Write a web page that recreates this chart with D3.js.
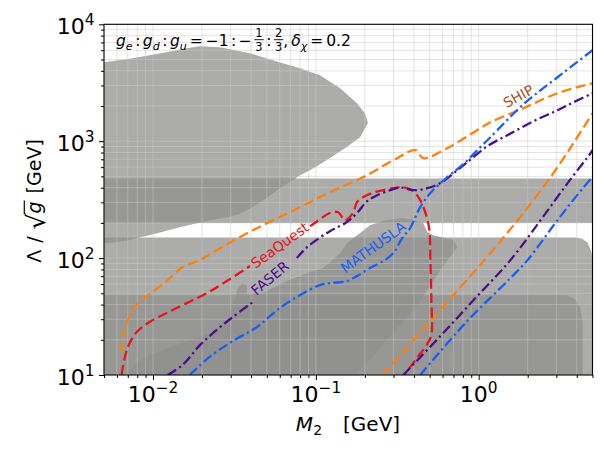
<!DOCTYPE html>
<html><head><meta charset="utf-8">
<script src="https://cdn.jsdelivr.net/npm/d3@7/dist/d3.min.js"></script>
<style>html,body{margin:0;padding:0;background:#fff;}svg{display:block;font-family:"DejaVu Sans",sans-serif;}</style>
</head><body>
<svg id="chart" width="607" height="455"></svg>
<script>
// ---------------- data (M2 [GeV], Lambda/sqrt(g) [GeV]) ----------------
const xTickVals = [0.01, 0.1, 1];
const xTickExp  = ["\u22122", "\u22121", "0"];
const yTickVals = [10, 100, 1000, 10000];
const yTickExp  = ["1", "2", "3", "4"];

// excluded (gray) regions
const regionTopBlob = [[0.005,4730],[0.0075,5120],[0.0121,5770],[0.0161,6240],[0.0194,6490],[0.0257,6350],[0.0394,5650],[0.0628,4650],[0.080,4210],[0.106,3660],[0.141,2840],[0.179,2110],[0.200,1730],[0.209,1430],[0.187,1080],[0.155,890],[0.117,690],[0.092,565],[0.080,512],[0.0724,464],[0.0601,396],[0.050,326],[0.041,273],[0.0341,238],[0.0275,220],[0.0223,211],[0.0186,199],[0.0146,184],[0.0118,170],[0.0095,157],[0.0083,151],[0.0072,143],[0.0062,137],[0.005,134]];
const regionBand = [[0.005,200],[5,200],[5,480],[0.005,480]];
const regionLow = [[0.005,150],[3.9,150],[4.3,147],[4.67,135],[4.93,112],[5,95],[5,10],[0.005,10]];
const regionLower = [[0.005,48],[3.5,48],[3.9,45],[4.2,38],[4.35,28],[4.35,10],[0.005,10]];
const regionWedge = [[0.00687,10],[0.00794,12.7],[0.00953,14.8],[0.0152,18.8],[0.0223,22.9],[0.0284,29.5],[0.0318,43.8],[0.0327,53.3],[0.0352,61.1],[0.0377,58.8],[0.0377,48.3],[0.0486,51.2],[0.0664,63.6],[0.092,75.9],[0.111,82.2],[0.141,110],[0.155,134],[0.215,191],[0.267,211],[0.344,220],[0.407,211],[0.457,199],[0.483,167],[0.526,157],[0.698,143],[0.740,124],[0.581,78.9],[0.505,58.8],[0.4375,42.1],[0.330,26.7],[0.248,17.0],[0.179,10.4],[0.174,10]];

// sensitivity contours (null = gap for inline label)
const shipUpper = [[0.00641,15.7],[0.00652,19.9],[0.0067,24.3],[0.0071,30.7],[0.00773,38.1],[0.00865,44.7],[0.00953,49.2],[0.0121,63.6],[0.0152,83.8],[0.0194,96.1],[0.0246,117],[0.041,173],[0.080,273],[0.122,367],[0.195,492],[0.316,716],[0.407,838],[0.457,716],[0.641,871],[1.023,1291],[1.18,1452],[1.884,1914],[3.048,2570],[5.0,3133]];
const shipLower = [[0.259,10],[0.505,29.0],[0.889,70.2],[1.18,110],[1.459,157],[1.884,243],[2.761,492],[3.819,961],[5.0,1734]];
const seaquest = [[0.00641,10],[0.0067,14.0],[0.00719,18.8],[0.00805,23.8],[0.00953,28.4],[0.0121,33.9],[0.0161,41.2],[0.0214,50.2],[0.0284,63.6],[0.0394,85.5],null,[0.092,188],[0.0961,195],[0.122,243],[0.137,247],[0.151,211],[0.169,243],[0.179,301],[0.195,332],[0.231,367],[0.2985,396],[0.344,404],[0.396,374],[0.4375,313],[0.476,233],[0.498,173],[0.505,96.1],[0.512,43.8],[0.512,22.0],[0.483,18.4],[0.426,14.5],[0.349,10]];
const faserUpper = [[0.0123,10],[0.0152,12.2],[0.0194,18.0],[0.0246,24.3],[0.0309,31.3],[0.041,42.1],null,[0.0764,100],[0.0883,124],[0.122,170],[0.155,203],[0.179,243],[0.2065,307],[0.238,345],[0.286,381],[0.330,401],[0.396,381],[0.483,396],[0.581,438],[0.740,565],[0.851,662],[1.130,906],[1.500,1125],[2.173,1483],[3.048,1841],[3.819,2153],[5.0,2570]];
const faserLower = [[0.344,10],[0.581,21.5],[0.955,45.5],[1.567,96.1],[2.399,211],[3.516,438],[4.864,789],[5.0,838]];
const mathuslaUpper = [[0.0168,10],[0.0223,14.3],[0.0309,19.5],[0.0434,25.7],[0.0601,37.4],[0.080,48.3],[0.106,58.8],[0.122,61.1],[0.155,63.6],[0.179,70.2],[0.215,82.2],[0.259,94.3],[0.2985,110],[0.339,148],[0.379,180],[0.4375,273],[0.505,360],[0.641,492],[0.805,636],[1.023,889],[1.18,1081],[1.884,2070],[3.048,3524],[5.0,5998]];
const mathuslaLower = [[0.4375,10],[0.828,27.8],[1.567,67.5],[1.995,96.1],[3.048,211],[4.41,404],[5.0,492]];

const labelNames = ["SHIP", "SeaQuest", "FASER", "MATHUSLA"];
const labelAt = [[1.754,2427],[0.0601,129],[0.0522,67.5],[0.225,124]];

// ---------------- drawing ----------------
const svg = d3.select('#chart');
const M = {l:104, r:592.5, t:24.3, b:375};
const x = d3.scaleLog().domain([0.005, 5]).range([M.l, M.r]);
const y = d3.scaleLog().domain([10, 10000]).range([M.b, M.t]);
const isMaj = d => Math.abs(Math.log10(d) - Math.round(Math.log10(d))) < 1e-9;

svg.append('defs').append('clipPath').attr('id','clip')
  .append('rect').attr('x',M.l).attr('y',M.t).attr('width',M.r-M.l).attr('height',M.b-M.t);
const plot = svg.append('g').attr('clip-path','url(#clip)');

const FILL = '#8f918e', FOP = 0.74;
const poly = d3.line().x(d=>x(d[0])).y(d=>y(d[1]));
[regionTopBlob, regionBand, regionLow, regionLower, regionWedge].forEach(r=>{
  plot.append('path').attr('d', poly(r)+'Z').attr('fill',FILL).attr('fill-opacity',FOP);
});

// grid
const xt = x.ticks(), yt = y.ticks();
const grid = plot.append('g').attr('stroke','#c8c8c8').attr('stroke-opacity',0.55).attr('stroke-width',0.9);
grid.selectAll('.gx').data(xt).join('line').attr('x1',d=>x(d)).attr('x2',d=>x(d)).attr('y1',M.t).attr('y2',M.b);
grid.selectAll('.gy').data(yt).join('line').attr('y1',d=>y(d)).attr('y2',d=>y(d)).attr('x1',M.l).attr('x2',M.r);

// contours
const ORANGE='#ff7f0e', RED='#e8141c', PURPLE='#4b0f8c', BLUE='#1a5ff5';
const DASH='10,4.5', DASHDOT='10,3.5,2.2,3.5';
const line = d3.line().defined(d=>d!=null).x(d=>x(d[0])).y(d=>y(d[1])).curve(d3.curveCatmullRom.alpha(0.5));
const series = [
  [shipUpper, ORANGE, DASH],[shipLower, ORANGE, DASH],
  [seaquest, RED, DASH],
  [faserUpper, PURPLE, DASHDOT],[faserLower, PURPLE, DASHDOT],
  [mathuslaUpper, BLUE, DASHDOT],[mathuslaLower, BLUE, DASHDOT]
];
series.forEach(([d,c,da])=>{
  plot.append('path').attr('d', line(d)).attr('fill','none').attr('stroke',c).attr('stroke-width',2.3).attr('stroke-dasharray',da);
});

// contour labels
const labelColors = ['#a84f1c', RED, PURPLE, BLUE];
const labelRot = [-29, -36, -40, -36];
labelNames.forEach((n,i)=>{
  svg.append('text').attr('transform',`translate(${x(labelAt[i][0])},${y(labelAt[i][1])}) rotate(${labelRot[i]})`)
    .attr('text-anchor','middle').attr('dominant-baseline','central')
    .attr('font-size',14).attr('fill',labelColors[i]).text(n);
});

// frame
svg.append('rect').attr('x',M.l).attr('y',M.t).attr('width',M.r-M.l).attr('height',M.b-M.t)
  .attr('fill','none').attr('stroke','#000').attr('stroke-width',1.1);

// axes ticks
const noDom = g=>g.select('.domain').remove();
svg.append('g').attr('transform',`translate(0,${M.b})`).call(d3.axisBottom(x).tickValues(xt.filter(d=>!isMaj(d))).tickSize(3).tickFormat('')).call(noDom);
svg.append('g').attr('transform',`translate(0,${M.b})`).call(d3.axisBottom(x).tickValues(xTickVals).tickSize(5).tickFormat('')).call(noDom);
svg.append('g').attr('transform',`translate(${M.l},0)`).call(d3.axisLeft(y).tickValues(yt.filter(d=>!isMaj(d))).tickSize(3).tickFormat('')).call(noDom);
svg.append('g').attr('transform',`translate(${M.l},0)`).call(d3.axisLeft(y).tickValues(yTickVals).tickSize(5).tickFormat('')).call(noDom);

// tick labels
const TFS = 22, SFS = 15.4;
xTickVals.forEach((v,i)=>{
  const t = svg.append('text').attr('x',x(v)).attr('y',401.5).attr('text-anchor','middle').attr('font-size',TFS);
  t.append('tspan').text('10');
  t.append('tspan').attr('dy',-8.5).attr('font-size',SFS).text(xTickExp[i]);
});
yTickVals.forEach((v,i)=>{
  const t = svg.append('text').attr('x',94.5).attr('y',y(v)+9.5).attr('text-anchor','end').attr('font-size',TFS);
  t.append('tspan').text('10');
  t.append('tspan').attr('dy',-8.5).attr('font-size',SFS).text(yTickExp[i]);
});

// rich text helper
const ctx = document.createElement('canvas').getContext('2d');
function rich(parent, pieces){
  const g = parent.append('g');
  let cx = 0, radTop = 0, radX = 0;
  for(const p of pieces){
    if(p.gap!==undefined){ cx += p.gap; continue; }
    if(p.frac){
      const n = g.append('text').attr('font-size',p.s).attr('text-anchor','middle').text(p.frac[0]);
      const dn = g.append('text').attr('font-size',p.s).attr('text-anchor','middle').text(p.frac[1]);
      const w = Math.max(n.node().getComputedTextLength(), dn.node().getComputedTextLength()) + 2;
      n.attr('x',cx+w/2).attr('y',p.ny); dn.attr('x',cx+w/2).attr('y',p.dny);
      g.append('line').attr('x1',cx).attr('x2',cx+w).attr('y1',p.by).attr('y2',p.by).attr('stroke','#000').attr('stroke-width',0.9);
      cx += w; continue;
    }
    const t = g.append('text').attr('x',cx).attr('y',p.dy||0).attr('font-size',p.s).text(p.t);
    if(p.i) t.attr('font-style','italic');
    const w = t.node().getComputedTextLength();
    if(p.rad){
      ctx.font = `${p.s}px "DejaVu Sans"`;
      const asc = ctx.measureText(p.t).actualBoundingBoxAscent;
      radTop = (p.dy||0) - asc; radX = cx + w;
    }
    if(p.over){
      g.append('line').attr('x1',radX-0.8).attr('x2',cx+w+1).attr('y1',radTop+0.6).attr('y2',radTop+0.6).attr('stroke','#000').attr('stroke-width',1.2);
    }
    cx += w;
  }
  return {g, width: cx};
}

// annotation
const AF = 15.5, AS = 11, AD = 3.5;
const ann = rich(svg, [
  {t:'g',s:AF,i:true},{t:'e',s:AS,i:true,dy:AD},{gap:2.5},{t:':',s:AF},{gap:2.5},
  {t:'g',s:AF,i:true},{t:'d',s:AS,i:true,dy:AD},{gap:2.5},{t:':',s:AF},{gap:2.5},
  {t:'g',s:AF,i:true},{t:'u',s:AS,i:true,dy:AD},{gap:3},{t:'=',s:AF},{gap:3},
  {t:'\u22121',s:AF},{gap:2.5},{t:':',s:AF},{gap:2.5},{t:'\u2212',s:AF},{gap:2.5},
  {frac:['1','3'],s:11.5,ny:-9,dny:5,by:-6.3},{gap:2.5},{t:':',s:AF},{gap:2.5},
  {frac:['2','3'],s:11.5,ny:-9,dny:5,by:-6.3},{t:',',s:AF},{gap:3},
  {t:'\u03b4',s:AF,i:true},{t:'\u03c7',s:AS,i:true,dy:AD},{gap:3},{t:'=',s:AF},{gap:3},{t:'0.2',s:AF}
]);
ann.g.attr('transform','translate(116,46)');

// x label
const xl = rich(svg, [{t:'M',s:20,i:true},{t:'2',s:14,dy:4},{gap:21},{t:'[GeV]',s:20}]);
xl.g.attr('transform',`translate(${348 - xl.width/2},431)`);

// y label
const yg = svg.append('g').attr('transform','translate(40.7,201) rotate(-90)');
const yl = rich(yg, [{t:'\u039b',s:19},{gap:7},{t:'/',s:19},{gap:7},{t:'\u221a',s:25,dy:4,rad:true},{t:'g',s:19,i:true,over:true},{gap:8},{t:'[GeV]',s:19}]);
yl.g.attr('transform',`translate(${-yl.width/2},0)`);
</script>
</body></html>
